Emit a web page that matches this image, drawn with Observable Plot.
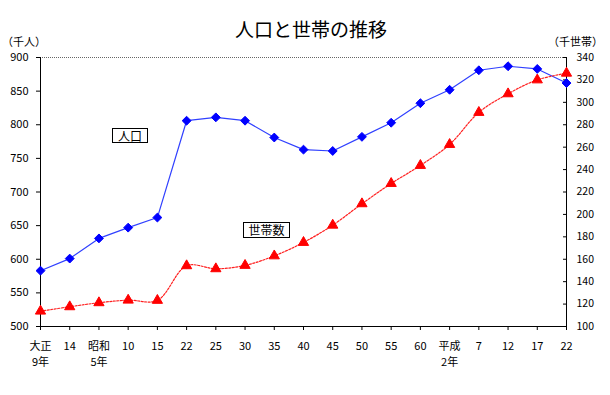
<!DOCTYPE html>
<html><head><meta charset="utf-8">
<script src="https://cdn.jsdelivr.net/npm/d3@7"></script>
<script src="https://cdn.jsdelivr.net/npm/@observablehq/plot@0.6"></script>
<style>
body{margin:0;background:#fff;}
#wrap{position:relative;width:610px;height:395px;font-family:"Noto Sans CJK JP",sans-serif;}
.t{position:absolute;white-space:nowrap;color:#000;line-height:1;}
.box{position:absolute;border:1px solid #000;background:#fff;font-size:12px;line-height:13px;text-align:center;box-sizing:border-box;}
</style></head>
<body><div id="wrap"></div>
<script>
const labels = ["大正\n9年","14","昭和\n5年","10","15","22","25","30","35","40","45","50","55","60","平成\n2年","7","12","17","22"];
const population = [583,601,631,647,662,806,811,806,781,763,761,782,803,832,852,881,887,883,862];
const households = [113.7,117.6,121.2,123.5,123.3,154.2,151.5,154.5,163,175,190.4,209.5,227.6,243.7,262.4,291,307.6,320,326];
const leftTicks = [500,550,600,650,700,750,800,850,900];
const rightTicks = [100,120,140,160,180,200,220,240,260,280,300,320,340];

const toLeft = v => 500 + (v - 100) * 400 / 240;
const popData = population.map((v,i)=>({i, v}));
const hhData = households.map((v,i)=>({i, v: toLeft(v)}));

const chart = Plot.plot({
  width: 610, height: 395,
  marginLeft: 40, marginRight: 44, marginTop: 57, marginBottom: 69,
  style: {fontFamily: '"Noto Sans CJK JP", sans-serif', fontSize: "11px", color: "#000", background: "#fff"},
  x: {domain: [0, 18]},
  y: {domain: [500, 900]},
  marks: [
    Plot.ruleY([900], {stroke: "#666", strokeDasharray: "1,1"}),
    Plot.axisY({anchor: "left", ticks: leftTicks, tickSize: 4, tickPadding: 8, label: null, stroke: "#000"}),
    Plot.axisY({anchor: "right", ticks: rightTicks.map(toLeft), tickFormat: d => String(Math.round(100 + (d - 500) * 240 / 400)), tickSize: -4, tickPadding: 14, label: null, textAnchor: "start", fontSize: 10.5}),
    Plot.axisX({ticks: d3.range(19), tickFormat: i => labels[i], tickSize: 4, tickPadding: 9, label: null, lineHeight: 1.4}),
    Plot.ruleX([0, 18], {stroke: "#000"}),
    Plot.ruleY([500], {stroke: "#000"}),
    Plot.line(popData, {x: "i", y: "v", stroke: "#3040ff", strokeWidth: 1.2}),
    Plot.dot(popData, {x: "i", y: "v", symbol: "diamond2", r: 4, fill: "#0000ff", stroke: "#0000ff", strokeWidth: 1}),
    Plot.line(hhData, {x: "i", y: "v", stroke: "#ff2020", strokeWidth: 1.2, strokeDasharray: "2,1.5", curve: "catmull-rom"}),
    Plot.dot(hhData, {x: "i", y: "v", symbol: "triangle", r: 3.8, fill: "#ff0000", stroke: "#ff0000", strokeWidth: 1})
  ]
});
const wrap = document.getElementById("wrap");
wrap.appendChild(chart);
function addText(txt, css, cls="t"){const d=document.createElement("div");d.className=cls;d.textContent=txt;Object.assign(d.style,css);wrap.appendChild(d);}
addText("人口と世帯の推移", {left:"0", width:"622px", textAlign:"center", top:"19px", fontSize:"19px"});
addText("（千人）", {left:"2px", top:"36px", fontSize:"11px"});
addText("（千世帯）", {left:"548px", top:"36px", fontSize:"11px"});
addText("人口", {left:"112px", top:"128px", width:"36px", height:"15px"}, "box");
addText("世帯数", {left:"243px", top:"222px", width:"47px", height:"16px"}, "box");
</script></body></html>
